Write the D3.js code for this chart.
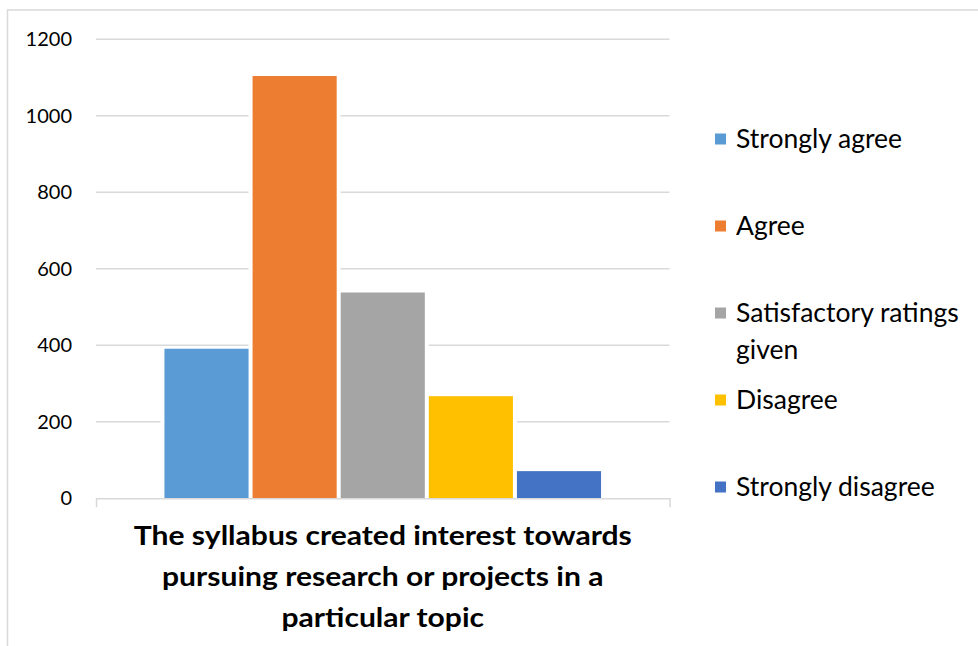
<!DOCTYPE html>
<html>
<head>
<meta charset="utf-8">
<script src="https://cdn.jsdelivr.net/npm/d3@7"></script>
<style>
  html, body { margin: 0; padding: 0; background: #fff; }
  svg { display: block; }
  text { font-family: Lato, "Open Sans", sans-serif; fill: #000; }
</style>
</head>
<body>
<svg id="chart" width="978" height="646"></svg>
<script>
const categories = ["The syllabus created interest towards pursuing research or projects in a particular topic"];
const categoryLines = ["The syllabus created interest towards", "pursuing research or projects in a", "particular topic"];
const seriesNames = ["Strongly agree", "Agree", "Satisfactory ratings given", "Disagree", "Strongly disagree"];
const legendLines = [["Strongly agree"], ["Agree"], ["Satisfactory ratings", "given"], ["Disagree"], ["Strongly disagree"]];
const seriesValues = [391, 1104, 538, 267, 71];
const seriesColors = ["#5B9BD5", "#ED7D31", "#A5A5A5", "#FFC000", "#4472C4"];
const yTicks = [0, 200, 400, 600, 800, 1000, 1200];

const svg = d3.select("#chart");

// outer chart frame
svg.append("rect")
  .attr("x", 7.5).attr("y", 10).attr("width", 990).attr("height", 700)
  .attr("fill", "none").attr("stroke", "#D9D9D9").attr("stroke-width", 1.5);

const plot = { left: 96, right: 669.5, top: 39.3, bottom: 498.3 };

const y = d3.scaleLinear().domain([0, 1200]).range([plot.bottom, plot.top]);
const x0 = d3.scaleBand().domain(categories).range([plot.left, plot.right]).padding(0);
const x1 = d3.scaleBand().domain(seriesNames).range([0, x0.bandwidth()])
  .paddingInner(0).paddingOuter(0.754);

// gridlines
svg.append("g")
  .selectAll("line")
  .data(yTicks.filter(d => d > 0))
  .join("line")
  .attr("x1", plot.left).attr("x2", plot.right)
  .attr("y1", d => y(d)).attr("y2", d => y(d))
  .attr("stroke", "#D9D9D9").attr("stroke-width", 1.5);

const rows = seriesNames.map((s, i) => ({ cat: categories[0], name: s, value: seriesValues[i], color: seriesColors[i] }));
const gap = 2; // half of white gap between bars

// white backing (hides gridlines beside bars)
svg.append("g")
  .selectAll("rect")
  .data(rows)
  .join("rect")
  .attr("x", d => x0(d.cat) + x1(d.name) + gap - 4)
  .attr("width", x1.bandwidth() - 2 * gap + 8)
  .attr("y", d => y(d.value) - 1)
  .attr("height", d => y(0) - y(d.value) + 1)
  .attr("fill", "#fff");

// bars
svg.append("g")
  .selectAll("rect")
  .data(rows)
  .join("rect")
  .attr("x", d => x0(d.cat) + x1(d.name) + gap)
  .attr("width", x1.bandwidth() - 2 * gap)
  .attr("y", d => y(d.value))
  .attr("height", d => y(0) - y(d.value))
  .attr("fill", d => d.color);

// x axis line + end ticks
const xAxis = d3.axisBottom(x0).tickValues([]).tickSizeOuter(9);
const gx = svg.append("g").attr("transform", `translate(0,${plot.bottom})`).call(xAxis);
gx.select(".domain").attr("stroke", "#D9D9D9").attr("stroke-width", 1.5);

// y axis labels (no line)
const yAxis = d3.axisLeft(y).tickValues(yTicks).tickFormat(d3.format("d")).tickSize(0).tickPadding(0);
const gy = svg.append("g").attr("transform", "translate(72,0)").call(yAxis);
gy.select(".domain").remove();
gy.selectAll("text").attr("font-size", 20).attr("font-family", "Lato, sans-serif").attr("fill", "#000");

// category label (bold, wrapped, horizontally stretched like the reference)
const catG = svg.append("g");
const titleTexts = categoryLines.map((ln, i) =>
  catG.append("text")
    .attr("x", x0(categories[0]) + x0.bandwidth() / 2)
    .attr("y", 545 + i * 41)
    .attr("text-anchor", "middle")
    .attr("font-weight", "bold")
    .attr("font-size", 26)
    .text(ln));
const targetFirst = 498;
const factor = targetFirst / titleTexts[0].node().getComputedTextLength();
titleTexts.forEach(t => {
  const w = t.node().getComputedTextLength();
  t.attr("textLength", w * factor).attr("lengthAdjust", "spacingAndGlyphs");
});

// legend
const legendY = [139, 226, 313, 400, 487];
const lg = svg.append("g");
seriesNames.forEach((s, i) => {
  lg.append("rect")
    .attr("x", 715).attr("y", legendY[i] - 5.5)
    .attr("width", 11).attr("height", 11)
    .attr("fill", seriesColors[i]);
  legendLines[i].forEach((ln, j) => {
    lg.append("text")
      .attr("x", 736).attr("y", legendY[i] + j * 37)
      .attr("dy", "0.35em")
      .attr("font-size", 26.5)
      .text(ln);
  });
});
</script>
</body>
</html>
